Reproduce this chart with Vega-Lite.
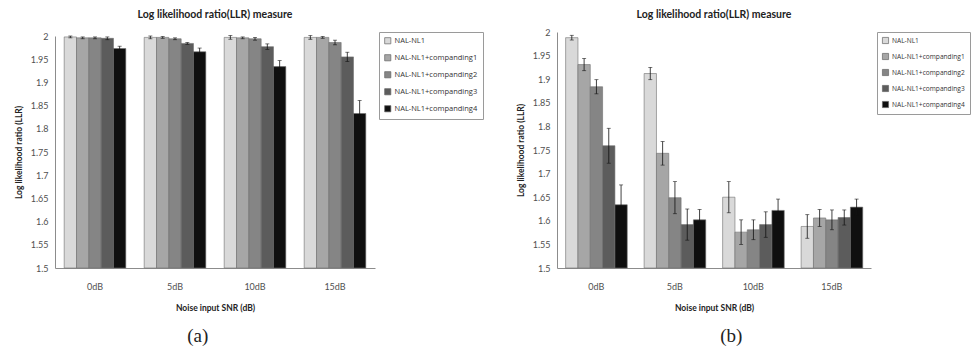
{
  "$schema": "https://vega.github.io/schema/vega-lite/v6.json",
  "padding": {"left": 14, "top": 9, "right": 0, "bottom": 0},
  "spacing": 32,
  "background": "white",
  "config": {
    "font": "Lato",
    "view": {"stroke": null},
    "concat": {"spacing": 32},
    "axis": {"grid": false, "ticks": false, "domainColor": "#8c8c8c", "domainWidth": 1, "labelFont": "Lato", "labelFontSize": 9, "labelColor": "#505050", "labelOverlap": false, "titleFont": "Lato", "titleFontSize": 8.5, "titleFontWeight": "bold", "titleColor": "#222"},
    "legend": {"orient": "right", "title": null, "strokeColor": "#9a9a9a", "padding": 5, "symbolType": "square", "symbolSize": 38, "symbolStrokeColor": "#666", "symbolStrokeWidth": 0.7, "labelFont": "Open Sans", "labelFontSize": 7.5, "labelColor": "#333", "rowPadding": 7, "labelOffset": 3},
    "title": {"font": "Lato", "fontSize": 10.5, "fontWeight": "bold", "color": "#222"}
  },
  "resolve": {"scale": {"color": "independent"}, "legend": {"color": "independent"}},
  "datasets": {
    "a": [
      {"snr": "0dB", "series": "NAL-NL1", "value": 1.998, "lo": 1.996, "hi": 2.0},
      {"snr": "0dB", "series": "NAL-NL1+companding1", "value": 1.996, "lo": 1.994, "hi": 1.998},
      {"snr": "0dB", "series": "NAL-NL1+companding2", "value": 1.996, "lo": 1.994, "hi": 1.998},
      {"snr": "0dB", "series": "NAL-NL1+companding3", "value": 1.995, "lo": 1.992, "hi": 1.998},
      {"snr": "0dB", "series": "NAL-NL1+companding4", "value": 1.973, "lo": 1.968, "hi": 1.978},
      {"snr": "5dB", "series": "NAL-NL1", "value": 1.997, "lo": 1.994, "hi": 2.0},
      {"snr": "5dB", "series": "NAL-NL1+companding1", "value": 1.997, "lo": 1.995, "hi": 1.999},
      {"snr": "5dB", "series": "NAL-NL1+companding2", "value": 1.994, "lo": 1.992, "hi": 1.996},
      {"snr": "5dB", "series": "NAL-NL1+companding3", "value": 1.984, "lo": 1.982, "hi": 1.986},
      {"snr": "5dB", "series": "NAL-NL1+companding4", "value": 1.966, "lo": 1.958, "hi": 1.974},
      {"snr": "10dB", "series": "NAL-NL1", "value": 1.997, "lo": 1.993, "hi": 2.001},
      {"snr": "10dB", "series": "NAL-NL1+companding1", "value": 1.996, "lo": 1.994, "hi": 1.998},
      {"snr": "10dB", "series": "NAL-NL1+companding2", "value": 1.994, "lo": 1.991, "hi": 1.997},
      {"snr": "10dB", "series": "NAL-NL1+companding3", "value": 1.977, "lo": 1.971, "hi": 1.983},
      {"snr": "10dB", "series": "NAL-NL1+companding4", "value": 1.934, "lo": 1.921, "hi": 1.947},
      {"snr": "15dB", "series": "NAL-NL1", "value": 1.997, "lo": 1.993, "hi": 2.001},
      {"snr": "15dB", "series": "NAL-NL1+companding1", "value": 1.997, "lo": 1.995, "hi": 1.999},
      {"snr": "15dB", "series": "NAL-NL1+companding2", "value": 1.986, "lo": 1.981, "hi": 1.991},
      {"snr": "15dB", "series": "NAL-NL1+companding3", "value": 1.955, "lo": 1.945, "hi": 1.965},
      {"snr": "15dB", "series": "NAL-NL1+companding4", "value": 1.833, "lo": 1.805, "hi": 1.861}
    ],
    "b": [
      {"snr": "0dB", "series": "NAL-NL1", "value": 1.988, "lo": 1.983, "hi": 1.993},
      {"snr": "0dB", "series": "NAL-NL1+companding1", "value": 1.931, "lo": 1.918, "hi": 1.944},
      {"snr": "0dB", "series": "NAL-NL1+companding2", "value": 1.884, "lo": 1.869, "hi": 1.899},
      {"snr": "0dB", "series": "NAL-NL1+companding3", "value": 1.759, "lo": 1.722, "hi": 1.796},
      {"snr": "0dB", "series": "NAL-NL1+companding4", "value": 1.634, "lo": 1.592, "hi": 1.676},
      {"snr": "5dB", "series": "NAL-NL1", "value": 1.912, "lo": 1.899, "hi": 1.925},
      {"snr": "5dB", "series": "NAL-NL1+companding1", "value": 1.743, "lo": 1.718, "hi": 1.768},
      {"snr": "5dB", "series": "NAL-NL1+companding2", "value": 1.649, "lo": 1.615, "hi": 1.683},
      {"snr": "5dB", "series": "NAL-NL1+companding3", "value": 1.592, "lo": 1.559, "hi": 1.625},
      {"snr": "5dB", "series": "NAL-NL1+companding4", "value": 1.602, "lo": 1.58, "hi": 1.624},
      {"snr": "10dB", "series": "NAL-NL1", "value": 1.65, "lo": 1.617, "hi": 1.683},
      {"snr": "10dB", "series": "NAL-NL1+companding1", "value": 1.576, "lo": 1.55, "hi": 1.602},
      {"snr": "10dB", "series": "NAL-NL1+companding2", "value": 1.581, "lo": 1.56, "hi": 1.602},
      {"snr": "10dB", "series": "NAL-NL1+companding3", "value": 1.592, "lo": 1.565, "hi": 1.619},
      {"snr": "10dB", "series": "NAL-NL1+companding4", "value": 1.622, "lo": 1.598, "hi": 1.646},
      {"snr": "15dB", "series": "NAL-NL1", "value": 1.588, "lo": 1.563, "hi": 1.613},
      {"snr": "15dB", "series": "NAL-NL1+companding1", "value": 1.606, "lo": 1.588, "hi": 1.624},
      {"snr": "15dB", "series": "NAL-NL1+companding2", "value": 1.602, "lo": 1.581, "hi": 1.623},
      {"snr": "15dB", "series": "NAL-NL1+companding3", "value": 1.607, "lo": 1.591, "hi": 1.623},
      {"snr": "15dB", "series": "NAL-NL1+companding4", "value": 1.629, "lo": 1.612, "hi": 1.646}
    ]
  },
  "hconcat": [
    {
      "resolve": {"scale": {"color": "independent"}, "legend": {"color": "independent"}},
      "title": {"text": "(a)", "orient": "bottom", "anchor": "start", "font": "Liberation Serif", "fontSize": 19, "fontWeight": "normal", "color": "#222", "offset": 15, "dx": 173},
      "vconcat": [
        {
          "width": 320,
          "height": 236,
          "title": {"text": "Log likelihood ratio(LLR) measure", "offset": 11},
          "data": {"name": "a"},
          "encoding": {
            "x": {"field": "snr", "type": "nominal", "sort": ["0dB", "5dB", "10dB", "15dB"], "scale": {"paddingInner": 0.23, "paddingOuter": 0.115}, "axis": {"labelAngle": 0, "labelPadding": 14, "titlePadding": 12, "title": "Noise input SNR (dB)"}},
            "xOffset": {"field": "series", "type": "nominal", "sort": ["NAL-NL1", "NAL-NL1+companding1", "NAL-NL1+companding2", "NAL-NL1+companding3", "NAL-NL1+companding4"]}
          },
          "layer": [
            {
              "mark": {"type": "bar", "stroke": "#6e6e6e", "strokeWidth": 0.6},
              "encoding": {
                "y": {"field": "value", "type": "quantitative", "title": "Log likelihood ratio (LLR)", "scale": {"domain": [1.5, 2], "range": [236, 4], "zero": false, "nice": false}, "axis": {"values": [1.5, 1.55, 1.6, 1.65, 1.7, 1.75, 1.8, 1.85, 1.9, 1.95, 2], "tickCount": 11, "labelExpr": "format(datum.value, '.3~r')", "labelOverlap": false, "labelPadding": 7, "titlePadding": 7}},
                "y2": {"datum": 1.5},
                "color": {"field": "series", "type": "nominal", "sort": ["NAL-NL1", "NAL-NL1+companding1", "NAL-NL1+companding2", "NAL-NL1+companding3", "NAL-NL1+companding4"], "scale": {"range": ["#d9d9d9", "#a6a6a6", "#858585", "#5c5c5c", "#0f0f0f"]}, "legend": {"offset": 4}}
              }
            },
            {
              "mark": {"type": "rule", "color": "#111", "strokeWidth": 0.8},
              "encoding": {"y": {"field": "lo", "type": "quantitative", "title": "Log likelihood ratio (LLR)"}, "y2": {"field": "hi"}}
            },
            {
              "mark": {"type": "tick", "color": "#111", "size": 4, "thickness": 0.8},
              "encoding": {"y": {"field": "lo", "type": "quantitative", "title": "Log likelihood ratio (LLR)"}}
            },
            {
              "mark": {"type": "tick", "color": "#111", "size": 4, "thickness": 0.8},
              "encoding": {"y": {"field": "hi", "type": "quantitative", "title": "Log likelihood ratio (LLR)"}}
            }
          ]
        }
      ]
    },
    {
      "resolve": {"scale": {"color": "independent"}, "legend": {"color": "independent"}},
      "title": {"text": "(b)", "orient": "bottom", "anchor": "start", "font": "Liberation Serif", "fontSize": 19, "fontWeight": "normal", "color": "#222", "offset": 15, "dx": 204},
      "vconcat": [
        {
          "width": 314,
          "height": 236,
          "title": {"text": "Log likelihood  ratio(LLR) measure", "offset": 8},
          "data": {"name": "b"},
          "encoding": {
            "x": {"field": "snr", "type": "nominal", "sort": ["0dB", "5dB", "10dB", "15dB"], "scale": {"paddingInner": 0.22, "paddingOuter": 0.11}, "axis": {"labelAngle": 0, "labelPadding": 14, "titlePadding": 12, "title": "Noise input SNR (dB)"}},
            "xOffset": {"field": "series", "type": "nominal", "sort": ["NAL-NL1", "NAL-NL1+companding1", "NAL-NL1+companding2", "NAL-NL1+companding3", "NAL-NL1+companding4"]}
          },
          "layer": [
            {
              "mark": {"type": "bar", "stroke": "#6e6e6e", "strokeWidth": 0.6},
              "encoding": {
                "y": {"field": "value", "type": "quantitative", "title": "Log likelihood ratio (LLR)", "scale": {"domain": [1.5, 2], "zero": false, "nice": false}, "axis": {"values": [1.5, 1.55, 1.6, 1.65, 1.7, 1.75, 1.8, 1.85, 1.9, 1.95, 2], "tickCount": 11, "labelExpr": "format(datum.value, '.3~r')", "labelOverlap": false, "labelPadding": 7, "titlePadding": 7}},
                "y2": {"datum": 1.5},
                "color": {"field": "series", "type": "nominal", "sort": ["NAL-NL1", "NAL-NL1+companding1", "NAL-NL1+companding2", "NAL-NL1+companding3", "NAL-NL1+companding4"], "scale": {"range": ["#d9d9d9", "#a6a6a6", "#858585", "#5c5c5c", "#0f0f0f"]}, "legend": {"offset": 6, "labelFontSize": 6.6, "labelLimit": 82}}
              }
            },
            {
              "mark": {"type": "rule", "color": "#111", "strokeWidth": 0.8},
              "encoding": {"y": {"field": "lo", "type": "quantitative", "title": "Log likelihood ratio (LLR)"}, "y2": {"field": "hi"}}
            },
            {
              "mark": {"type": "tick", "color": "#111", "size": 4, "thickness": 0.8},
              "encoding": {"y": {"field": "lo", "type": "quantitative", "title": "Log likelihood ratio (LLR)"}}
            },
            {
              "mark": {"type": "tick", "color": "#111", "size": 4, "thickness": 0.8},
              "encoding": {"y": {"field": "hi", "type": "quantitative", "title": "Log likelihood ratio (LLR)"}}
            }
          ]
        }
      ]
    }
  ]
}
